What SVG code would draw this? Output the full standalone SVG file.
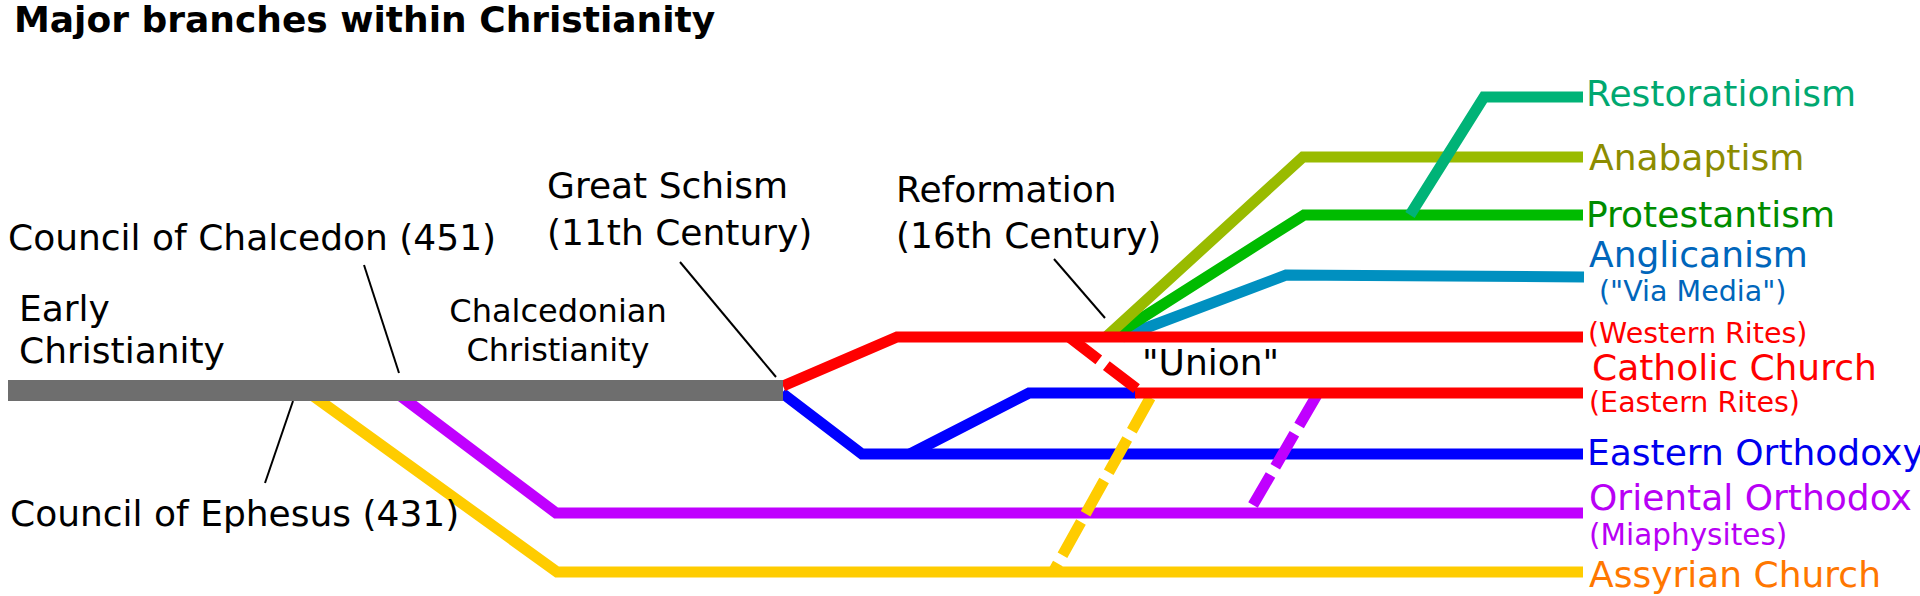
<svg xmlns="http://www.w3.org/2000/svg" width="1920" height="596" viewBox="0 0 1920 596">
<style>
text{font-family:"DejaVu Sans","Liberation Sans",sans-serif;font-size:36px;fill:#000}
.title{font-weight:bold}
.small{font-size:32px}
.sub{font-size:28.5px}
.ln{fill:none;stroke-width:11;stroke-linejoin:miter;stroke-linecap:butt}
.dash{stroke-dasharray:38,9.5}
.ptr{fill:none;stroke:#000;stroke-width:2}
</style>
<rect width="1920" height="596" fill="#fff"/>
<text class="title" x="14" y="32">Major branches within Christianity</text>
<g id="connectors">
<path id="assyrian-line" class="ln" stroke="#ffcc00" d="M298,385 L557,572 L1583,572"/>
<path id="oriental-line" class="ln" stroke="#c000ff" d="M386,385 L556,513 L1583,513"/>
<path id="eastern-line" class="ln" stroke="#0000ff" d="M782,393 L862,454 L1583,454"/>
<path id="eastern-branch" class="ln" stroke="#0000ff" d="M910,454 L1029,393 L1136,393"/>
<path id="assyrian-union" class="ln dash" stroke="#ffcc00" stroke-dashoffset="40" d="M1154,391 L1052,574"/>
<path id="oriental-union" class="ln dash" stroke="#c000ff" stroke-dashoffset="42" d="M1321,388 L1253,505"/>
<path id="anglican-line" class="ln" stroke="#0090c0" d="M1122,337 L1286,275 L1584,277"/>
<path id="protestant-line" class="ln" stroke="#00bb00" d="M1112,337 L1304,215 L1583,215"/>
<path id="anabaptist-line" class="ln" stroke="#99bb00" d="M1106,337 L1303,157 L1583,157"/>
<path id="restoration-line" class="ln" stroke="#00b377" d="M1410,215 L1484,97 L1583,97"/>
<path id="western-line" class="ln" stroke="#ff0000" d="M783,386 L897,337 L1583,337"/>
<path id="catholic-union" class="ln dash" stroke="#ff0000" stroke-dashoffset="43" d="M1065,334 L1137,389"/>
<path id="eastern-rites-line" class="ln" stroke="#ff0000" d="M1135,393 L1583,393"/>
<line class="ptr" x1="364" y1="265" x2="399" y2="373"/>
<line class="ptr" x1="293" y1="401" x2="265" y2="483"/>
<line class="ptr" x1="680" y1="262" x2="776" y2="377"/>
<line class="ptr" x1="1054" y1="259" x2="1105" y2="318"/>
</g>
<g id="early-christianity">
<rect x="8" y="380" width="775" height="21" fill="#6e6e6e"/>
<text x="19" y="321">Early</text>
<text x="19" y="363">Christianity</text>
</g>
<g id="chalcedon"><text x="8" y="250">Council of Chalcedon (451)</text></g>
<g id="ephesus"><text x="10" y="526">Council of Ephesus (431)</text></g>
<g id="chalcedonian"><text class="small" text-anchor="middle" x="558" y="322">Chalcedonian</text><text class="small" text-anchor="middle" x="558" y="361">Christianity</text></g>
<g id="great-schism"><text x="547" y="198">Great Schism</text><text x="547" y="245">(11th Century)</text></g>
<g id="reformation"><text x="896" y="202">Reformation</text><text x="896" y="248">(16th Century)</text></g>
<g id="union"><text x="1142" y="375">"Union"</text></g>
<g id="restorationism"><text x="1586" y="106" style="fill:#00a870">Restorationism</text></g>
<g id="anabaptism"><text x="1589" y="170" style="fill:#8c8c00">Anabaptism</text></g>
<g id="protestantism"><text x="1586" y="227" style="fill:#008c00">Protestantism</text></g>
<g id="anglicanism"><text x="1589" y="267" style="fill:#0066bb">Anglicanism</text><text x="1599" y="301" style="fill:#0066bb;font-size:28.5px">("Via Media")</text></g>
<g id="catholic"><text class="sub" x="1588" y="343" style="fill:#ff0000">(Western Rites)</text><text x="1592" y="380" style="fill:#ff0000">Catholic Church</text><text class="sub" x="1589" y="412" style="fill:#ff0000">(Eastern Rites)</text></g>
<g id="eastern-orthodoxy"><text x="1587" y="465" style="fill:#0000ee">Eastern Orthodoxy</text></g>
<g id="oriental-orthodox"><text x="1589" y="510" style="fill:#b800f5">Oriental Orthodox</text><text x="1589" y="545" style="fill:#b800f5;font-size:29.5px">(Miaphysites)</text></g>
<g id="assyrian"><text x="1589" y="587" style="fill:#ff7700">Assyrian Church</text></g>
</svg>
